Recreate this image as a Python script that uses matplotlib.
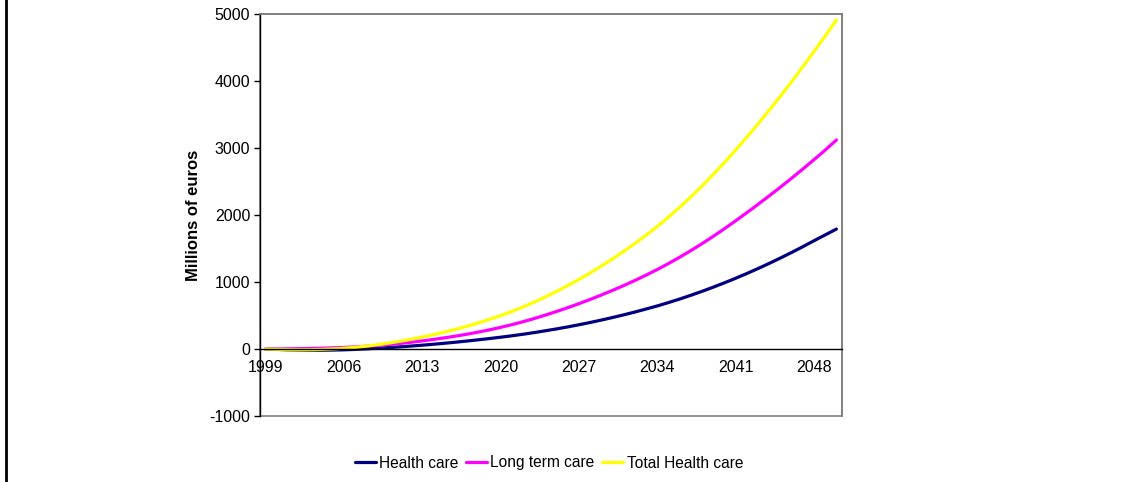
import matplotlib
matplotlib.use("Agg")
import matplotlib.pyplot as plt
from matplotlib.lines import Line2D

plt.rcParams["font.family"] = ["Liberation Sans", "DejaVu Sans"]
plt.rcParams["axes.unicode_minus"] = False

years = list(range(1999, 2051))

# millions of euros, yearly
health_care = [
    0, -6, -12, -16, -18, -18, -16, -12, -6, 2,
    11, 21, 32, 44, 57, 71, 86, 102, 119, 137,
    156, 176, 197, 220, 245, 272, 300, 330, 362, 396,
    432, 470, 510, 552, 597, 643, 693, 746, 802, 861,
    923, 988, 1056, 1127, 1201, 1278, 1358, 1441, 1527, 1616,
    1703, 1790,
]
long_term_care = [
    0, 1, 3, 5, 8, 12, 17, 23, 31, 41,
    53, 67, 83, 101, 121, 143, 167, 193, 221, 252,
    286, 323, 363, 407, 455, 506, 560, 617, 677, 740,
    806, 875, 947, 1023, 1103, 1187, 1276, 1370, 1469, 1573,
    1682, 1796, 1914, 2035, 2159, 2286, 2416, 2549, 2686, 2826,
    2969, 3120,
]
total_health_care = [
    0, -5, -9, -11, -10, -6, 1, 11, 25, 43,
    64, 88, 115, 145, 178, 214, 253, 295, 340, 389,
    442, 499, 560, 627, 700, 778, 860, 947, 1039, 1136,
    1238, 1345, 1457, 1575, 1700, 1830, 1969, 2116, 2271, 2434,
    2605, 2784, 2970, 3162, 3360, 3564, 3774, 3990, 4213, 4442,
    4672, 4910,
]

series = [
    ("Health care", health_care, "#000080"),
    ("Long term care", long_term_care, "#FF00FF"),
    ("Total Health care", total_health_care, "#FFFF00"),
]

W, H = 1131, 482
fig = plt.figure(figsize=(W / 100, H / 100), dpi=100)
ax = fig.add_axes([260 / W, 1 - 416 / H, (842 - 260) / W, (416 - 14) / H])

x = list(range(len(years)))
for label, values, color in series:
    ax.plot(x, values, color=color, lw=2.3, label=label, solid_capstyle="round")

ax.set_xlim(-0.5, len(years) - 0.5)
ax.set_ylim(-1000, 5000)
ax.set_yticks(range(-1000, 5001, 1000))

# category labels every 7 years, sitting under the zero line
tick_idx = list(range(0, len(years), 7))
ax.set_xticks(tick_idx)
ax.set_xticklabels([str(years[i]) for i in tick_idx])
ax.spines["bottom"].set_position(("data", 0))
ax.spines["bottom"].set_color("black")
ax.spines["bottom"].set_linewidth(1.0)
ax.tick_params(axis="x", length=0, pad=8, labelsize=11.5)
ax.tick_params(axis="y", length=4, width=1, direction="out", pad=3, labelsize=11.5)

# plot area frame
for side in ("top", "right"):
    ax.spines[side].set_color("#808080")
    ax.spines[side].set_linewidth(1.2)
ax.spines["left"].set_color("black")
ax.spines["left"].set_linewidth(1.0)
ax.patch.set_edgecolor("#808080")
ax.patch.set_linewidth(1.2)

fig.text(193 / W, 1 - 215 / H, "Millions of euros", rotation=90, fontsize=12,
         fontweight="bold", ha="center", va="center")

fig.legend(
    loc="center", bbox_to_anchor=(549 / W, 1 - 463 / H), ncol=3, frameon=False,
    fontsize=11.2, handlelength=1.35, handletextpad=0.2, columnspacing=0.5,
)

fig.add_artist(Line2D([6 / W, 6 / W], [0, 1], color="black", lw=2, transform=fig.transFigure))

fig.savefig("out.png", dpi=100)
